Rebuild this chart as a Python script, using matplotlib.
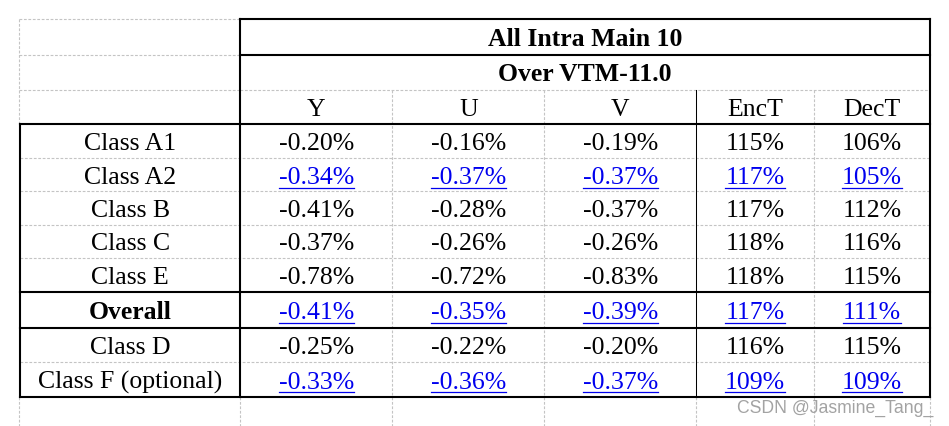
import matplotlib
matplotlib.use("Agg")
import matplotlib.pyplot as plt

plt.rcParams["font.family"] = "Liberation Serif"
plt.rcParams["font.size"] = 18.5

# table contents
row_labels = ["Class A1", "Class A2", "Class B", "Class C", "Class E",
              "Overall", "Class D", "Class F (optional)"]
col_labels = ["Y", "U", "V", "EncT", "DecT"]
y_bd = [-0.20, -0.34, -0.41, -0.37, -0.78, -0.41, -0.25, -0.33]
u_bd = [-0.16, -0.37, -0.28, -0.26, -0.72, -0.35, -0.22, -0.36]
v_bd = [-0.19, -0.37, -0.37, -0.26, -0.83, -0.39, -0.20, -0.37]
enc_t = [115, 117, 117, 118, 118, 117, 116, 109]
dec_t = [106, 105, 112, 116, 115, 111, 115, 109]
linked_rows = ["Class A2", "Overall", "Class F (optional)"]
title1 = "All Intra Main 10"
title2 = "Over VTM-11.0"
watermark = "CSDN @Jasmine_Tang_"

# layout (pixels)
W, H = 949, 426
xs = [20, 240.5, 392.3, 544.3, 696.3, 813.7, 930]
ys = [19, 54.5, 89.5, 123.7, 158, 191, 224.5, 257.7, 291.7, 327.7, 362, 396.7]
THICK = 1.5
THIN = 0.75
GRID = dict(color="#c4c4c4", lw=0.8, ls=(0, (2.5, 1.5)), zorder=1)
BLUE = "#0000ee"

fig = plt.figure(figsize=(W / 100, H / 100), dpi=100)
ax = fig.add_axes([0, 0, 1, 1])
ax.set_xlim(0, W)
ax.set_ylim(H, 0)
ax.axis("off")


def hline(y, x0, x1, **kw):
    ax.plot([x0, x1], [y, y], **kw)


def vline(x, y0, y1, **kw):
    ax.plot([x, x], [y0, y1], **kw)


# spreadsheet grid lines
for y in ys[:3]:
    hline(y, 19.5, xs[1], **GRID)
hline(ys[2], xs[1], xs[-1], **GRID)
vline(19.5, ys[0], ys[3], **GRID)
for i in range(4, len(ys) - 1):
    if i not in (8, 9):
        hline(ys[i], xs[0], xs[-1], **GRID)
for x in [xs[2], xs[3], xs[5]]:
    vline(x, ys[2], ys[-1], **GRID)
for x in [19.5] + xs[1:]:
    vline(x, ys[-1], H, **GRID)

# borders
solid = dict(color="black", solid_capstyle="projecting", zorder=3)
hline(ys[0], xs[1], xs[-1], lw=THICK, **solid)
hline(ys[1], xs[1], xs[-1], lw=THICK, **solid)
for y in [ys[3], ys[8], ys[9], ys[-1]]:
    hline(y, xs[0], xs[-1], lw=THICK, **solid)
vline(xs[0], ys[3], ys[-1], lw=THICK, **solid)
vline(xs[1], ys[0], ys[-1], lw=THICK, **solid)
vline(xs[-1], ys[0], ys[-1], lw=THICK, **solid)
vline(xs[4], ys[2], ys[-1], lw=THIN, **solid)


def mid(a, b):
    return (a + b) / 2


BASE = 9.2
ax.text(mid(xs[1], xs[-1]), mid(ys[0], ys[1]) + BASE, title1,
        ha="center", va="baseline", fontweight="bold")
ax.text(mid(xs[1], xs[-1]), mid(ys[1], ys[2]) + BASE, title2,
        ha="center", va="baseline", fontweight="bold")
for j, c in enumerate(col_labels):
    ax.text(mid(xs[j + 1], xs[j + 2]), mid(ys[2], ys[3]) + BASE, c,
            ha="center", va="baseline")

columns = [
    [f"{v:.2f}%" for v in y_bd],
    [f"{v:.2f}%" for v in u_bd],
    [f"{v:.2f}%" for v in v_bd],
    [f"{v}%" for v in enc_t],
    [f"{v}%" for v in dec_t],
]

underlined = []
for i, name in enumerate(row_labels):
    yb = mid(ys[i + 3], ys[i + 4]) + BASE
    ax.text(mid(xs[0], xs[1]), yb, name, ha="center", va="baseline",
            fontweight="bold" if name == "Overall" else "normal")
    link = name in linked_rows
    for j, col in enumerate(columns):
        t = ax.text(mid(xs[j + 1], xs[j + 2]), yb, col[i], ha="center",
                    va="baseline", color=BLUE if link else "black")
        if link:
            underlined.append((t, yb))

# underline the hyperlinked cells
fig.canvas.draw()
inv = ax.transData.inverted()
for t, yb in underlined:
    bb = t.get_window_extent()
    (x0, _), (x1, _) = inv.transform([[bb.x0, bb.y0], [bb.x1, bb.y1]])
    hline(yb + 3.8, x0, x1, color=BLUE, lw=0.9, zorder=4)

ax.text(933, 413, watermark, ha="right", va="baseline",
        family="Liberation Sans", fontsize=12.7, color="#a3a3a3")

fig.savefig("out.png", dpi=100)
